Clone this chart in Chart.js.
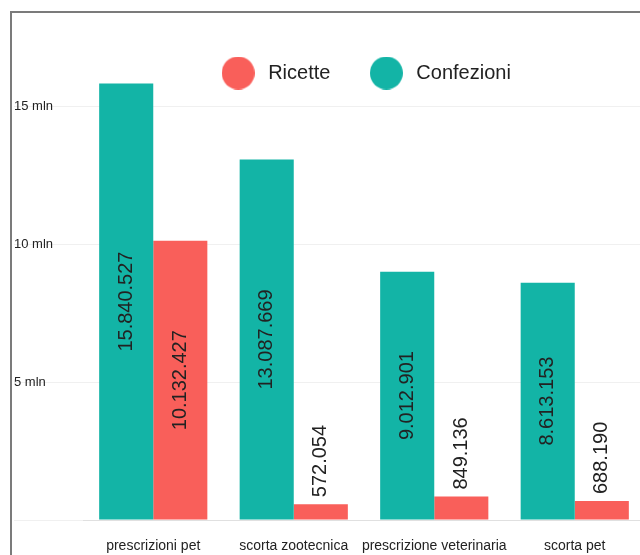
<!DOCTYPE html>
<html>
<head>
<meta charset="utf-8">
<script src="https://cdn.jsdelivr.net/npm/chart.js@4"></script>
<style>
  html, body { margin: 0; padding: 0; background: #fff; overflow: hidden; }
  #wrap { position: relative; width: 640px; height: 555px; overflow: hidden; }
  #frame { position: absolute; left: 10px; top: 11px; width: 700px; height: 600px;
           border-left: 2px solid #7b7b7b; border-top: 2px solid #7b7b7b; pointer-events: none; }
  canvas { position: absolute; left: 0; top: 0; }
</style>
</head>
<body>
<div id="wrap">
  <canvas id="chart" width="728" height="555"></canvas>
  <div id="frame"></div>
</div>
<script>
// Data
const categories = ['prescrizioni pet', 'scorta zootecnica', 'prescrizione veterinaria', 'scorta pet'];
const confezioni = [15840527, 13087669, 9012901, 8613153];
const ricette = [10132427, 572054, 849136, 688190];
const yTicks = [0, 5000000, 10000000, 15000000];
const yTickLabels = ['', '5 mln', '10 mln', '15 mln'];

const TEAL = '#13b4a6';
const CORAL = '#f95f5a';

Chart.defaults.font.family = '"Liberation Sans", Arial, sans-serif';

// Italian thousands separator
const fmt = (v) => String(v).replace(/\B(?=(\d{3})+(?!\d))/g, '.');

// round legend markers
const makeDot = (color) => {
    const c = document.createElement('canvas');
    c.width = 33; c.height = 33;
    const g = c.getContext('2d');
    g.fillStyle = color;
    g.beginPath();
    g.arc(16.5, 16.5, 16.5, 0, Math.PI * 2);
    g.fill();
    return c;
};
const dots = [makeDot(TEAL), makeDot(CORAL)];

// legend is centred on the whole canvas, not just the padded box
const legendShift = {
    id: 'legendShift',
    afterLayout(chart) {
        chart.legend.left += 35;
        chart.legend.right += 35;
    }
};

// rotated value labels
const valueLabels = {
    id: 'valueLabels',
    afterDatasetsDraw(chart) {
        const ctx = chart.ctx;
        ctx.save();
        ctx.font = '20px "Liberation Sans", Arial, sans-serif';
        ctx.fillStyle = '#222';
        ctx.textBaseline = 'middle';
        chart.data.datasets.forEach((ds, di) => {
            chart.getDatasetMeta(di).data.forEach((bar, i) => {
                const txt = fmt(ds.data[i]);
                const w = ctx.measureText(txt).width;
                const h = bar.base - bar.y;
                let cy;
                ctx.save();
                ctx.translate(bar.x, 0);
                ctx.rotate(-Math.PI / 2);
                if (h > w + 20) {
                    cy = (bar.y + bar.base) / 2;
                    ctx.textAlign = 'center';
                } else {
                    cy = bar.y - 7;
                    ctx.textAlign = 'left';
                }
                ctx.fillText(txt, -cy, 0);
                ctx.restore();
            });
        });
        ctx.restore();
    }
};

const ctx = document.getElementById('chart').getContext('2d');
new Chart(ctx, {
    type: 'bar',
    data: {
        labels: categories,
        datasets: [
            { label: 'Confezioni', data: confezioni, backgroundColor: TEAL, clip: false },
            { label: 'Ricette', data: ricette, backgroundColor: CORAL, clip: false }
        ]
    },
    options: {
        responsive: false,
        animation: false,
        devicePixelRatio: 1,
        categoryPercentage: 0.77,
        barPercentage: 1,
        layout: { padding: { left: 14, right: 83, top: 27, bottom: 0 } },
        plugins: {
            tooltip: { enabled: false },
            legend: {
                position: 'top',
                reverse: true,
                labels: {
                    usePointStyle: true,
                    pointStyleWidth: 40,
                    padding: 36,
                    color: '#222',
                    font: { size: 20 },
                    generateLabels(chart) {
                        const items = Chart.defaults.plugins.legend.labels.generateLabels(chart);
                        items.forEach(it => { it.pointStyle = dots[it.datasetIndex]; });
                        return items;
                    }
                }
            }
        },
        scales: {
            x: {
                grid: { display: false, drawTicks: false },
                border: { display: true, color: 'rgba(0,0,0,0.07)' },
                ticks: { color: '#222', font: { size: 14 }, padding: 18, maxRotation: 0, autoSkip: false },
                afterFit(s) { s.height = 35; }
            },
            y: {
                min: 0,
                max: 15500000,
                border: { display: false },
                grid: { color: 'rgba(0,0,0,0.06)', tickLength: 69 },
                ticks: {
                    crossAlign: 'far',
                    color: '#222',
                    font: { size: 13 },
                    callback: (v) => yTickLabels[yTicks.indexOf(v)] ?? ''
                },
                afterBuildTicks(s) { s.ticks = yTicks.map(v => ({ value: v })); },
                afterFit(s) { s.width = 69; }
            }
        }
    },
    plugins: [valueLabels, legendShift]
});
</script>
</body>
</html>
